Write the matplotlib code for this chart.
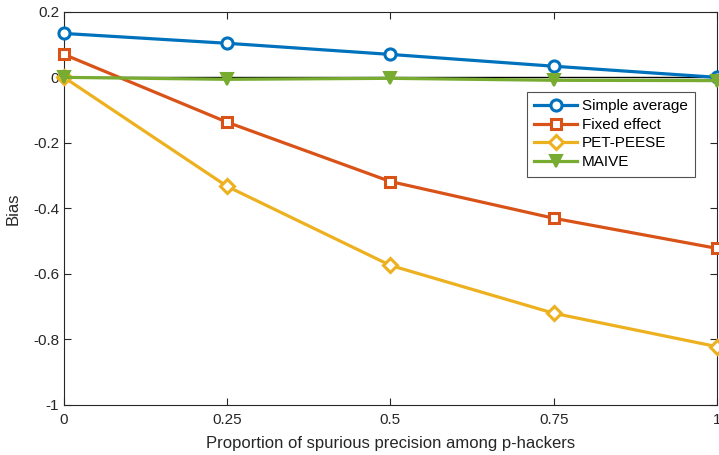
import matplotlib.pyplot as plt

plt.rcParams['font.family'] = ['Liberation Sans', 'DejaVu Sans']

x = [0, 0.25, 0.5, 0.75, 1]
simple_avg = [0.134, 0.104, 0.070, 0.034, 0.0]
fixed_eff = [0.070, -0.137, -0.318, -0.430, -0.522]
pet_peese = [0.0, -0.333, -0.574, -0.720, -0.822]
maive = [0.0, -0.006, -0.003, -0.009, -0.010]

fig = plt.figure(figsize=(7.19, 4.55), dpi=100)
ax = fig.add_axes([0.089, 0.110, 0.908, 0.864])

ax.axhline(0, color='black', lw=1.0, zorder=1)
ax.plot(x, simple_avg, color='#0072BD', lw=2.3, marker='o', ms=8, mew=2.2,
        mfc='white', label='Simple average', clip_on=False, zorder=3)
ax.plot(x, fixed_eff, color='#D95319', lw=2.3, marker='s', ms=7, mew=2.2,
        mfc='white', label='Fixed effect', clip_on=False, zorder=3)
ax.plot(x, pet_peese, color='#EDB120', lw=2.3, marker='D', ms=7, mew=2.2,
        mfc='white', label='PET-PEESE', clip_on=False, zorder=3)
ax.plot(x, maive, color='#77AC30', lw=2.3, marker='v', ms=9, mew=1.5,
        mfc='#77AC30', label='MAIVE', clip_on=False, zorder=4)

ax.set_xlim(0, 1)
ax.set_ylim(-1, 0.2)
ax.set_xticks(x)
ax.set_xticklabels(['0', '0.25', '0.5', '0.75', '1'])
ax.set_yticks([-1, -0.8, -0.6, -0.4, -0.2, 0, 0.2])
ax.set_yticklabels(['-1', '-0.8', '-0.6', '-0.4', '-0.2', '0', '0.2'])
ax.tick_params(direction='in', top=True, right=True, labelsize=11,
               colors='#262626', length=5, width=0.8)
ax.tick_params(axis='x', pad=6)
for s in ax.spines.values():
    s.set_color('#262626')
    s.set_linewidth(0.8)

ax.set_xlabel('Proportion of spurious precision among p-hackers', fontsize=12,
              color='#262626', labelpad=6)
ax.set_ylabel('Bias', fontsize=12, color='#262626')
ax.yaxis.set_label_coords(-0.066, 0.5)

leg = ax.legend(loc='upper right', bbox_to_anchor=(0.967, 0.797), fontsize=11,
                frameon=True, fancybox=False, edgecolor='#262626',
                handlelength=2.8, borderpad=0.5, labelspacing=0.3,
                handletextpad=0.3, borderaxespad=0)
leg.get_frame().set_linewidth(0.8)

fig.savefig('out.png', dpi=100)
